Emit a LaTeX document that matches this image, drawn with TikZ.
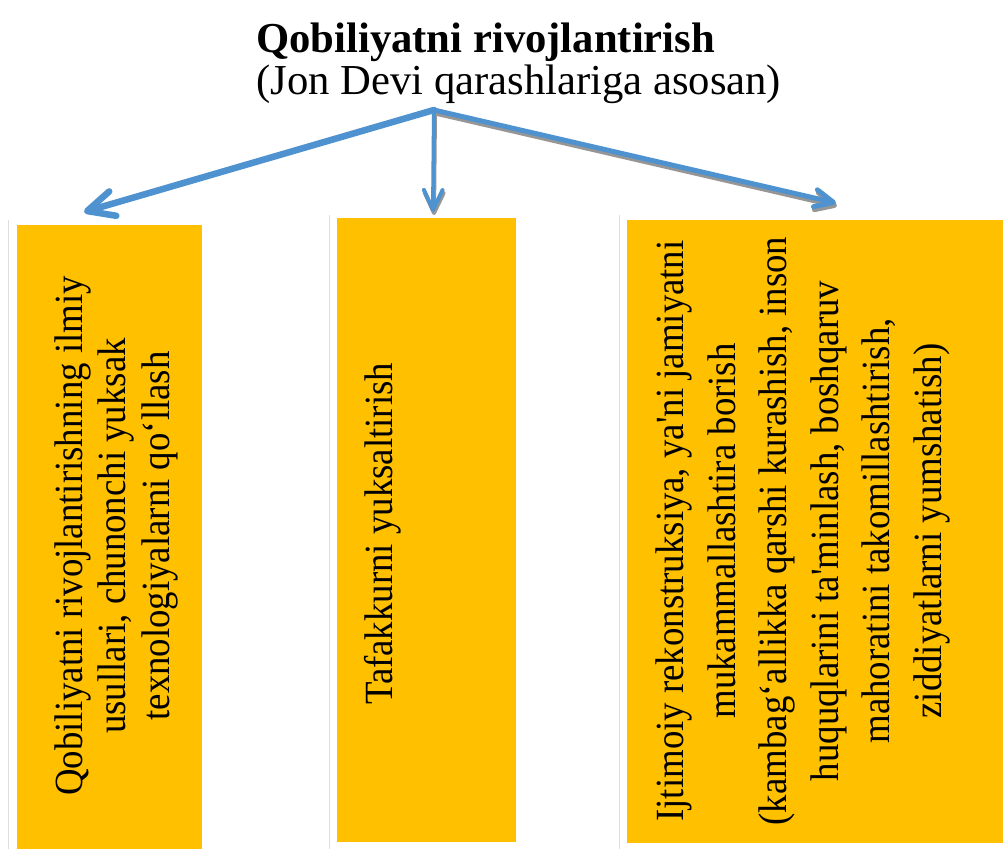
\documentclass[tikz,border=0pt]{standalone}
\usepackage{fontspec}
\setmainfont{Liberation Serif}
\usetikzlibrary{arrows.meta}
\font\boxfnt="Liberation Serif:extend=0.92" at 30pt
\definecolor{amber}{HTML}{FFC000}
\definecolor{arrowblue}{RGB}{78,146,208}
\definecolor{shadowgray}{RGB}{150,150,150}
\definecolor{rulegray}{RGB}{222,222,222}
\tikzset{
  card/.style={fill=amber},
  cellrule/.style={draw=rulegray, line width=0.75pt},
  vtext/.style={rotate=90, anchor=base, inner sep=0pt, align=center, text=black},
  titletext/.style={anchor=base west, inner sep=0pt, font=\fontsize{32pt}{36pt}\selectfont},
  arrowA/.style={draw=arrowblue, line width=4.9pt, line cap=round,
    -{Straight Barb[length=20pt, width=19pt, round]}},
  arrowB/.style={draw=arrowblue, line width=3pt, line cap=round,
    -{Straight Barb[length=15pt, width=14pt, round]}},
  arrowC/.style={draw=arrowblue, line width=3.7pt, line cap=round,
    -{Straight Barb[length=14pt, width=13pt, round]}},
  shadowB/.style={arrowB, draw=shadowgray, transform canvas={xshift=0.75pt, yshift=-2.25pt}},
  shadowC/.style={arrowC, draw=shadowgray, transform canvas={xshift=0.75pt, yshift=-2.25pt}},
}
\begin{document}
\begin{tikzpicture}[x=0.75pt, y=0.75pt]
\useasboundingbox (0,0) rectangle (1004,849);
\fill[white] (0,0) rectangle (1004,849);

% faint cell borders
\draw[cellrule] (8,0) -- (8,629);
\draw[cellrule] (329,0) -- (329,634);
\draw[cellrule] (619,0) -- (619,634);

% boxes
\fill[card] (17,0) rectangle (202,624);
\fill[card] (337,7) rectangle (516,631);
\fill[card] (627,6) rectangle (1003,629);

% title
\node[titletext, font=\fontsize{32pt}{36pt}\selectfont\bfseries] (title) at (256,796) {Qobiliyatni rivojlantirish};
\node[titletext] (subtitle) at (256,754) {(Jon Devi qarashlariga asosan)};

% texts (base anchor = baseline of the last line)
\node[vtext, font={\boxfnt\baselineskip=32.6pt}] (t1) at (169,313)
  {Qobiliyatni rivojlantirishning ilmiy\\usullari, chunonchi yuksak\\texnologiyalarni qo‘llash};
\node[vtext, font={\boxfnt\baselineskip=32.6pt}] (t2) at (392,315)
  {Tafakkurni yuksaltirish};
\node[vtext, font={\boxfnt\baselineskip=38.6pt}] (t3) at (941,318)
  {Ijtimoiy rekonstruksiya, ya'ni jamiyatni\\mukammallashtira borish\\(kambag‘allikka qarshi kurashish, inson\\huquqlarini ta'minlash, boshqaruv\\mahoratini takomillashtirish,\\ziddiyatlarni yumshatish)};

% arrows
\coordinate (o) at (434,739);
\coordinate (tipA) at (84,637);
\coordinate (tipB) at (433,637);
\coordinate (tipC) at (836,646);
\draw[shadowB] (o) -- (tipB);
\draw[shadowC] (o) -- (tipC);
\draw[arrowA] (o) -- (tipA);
\draw[arrowB] (o) -- (tipB);
\draw[arrowC] (o) -- (tipC);
\end{tikzpicture}
\end{document}
